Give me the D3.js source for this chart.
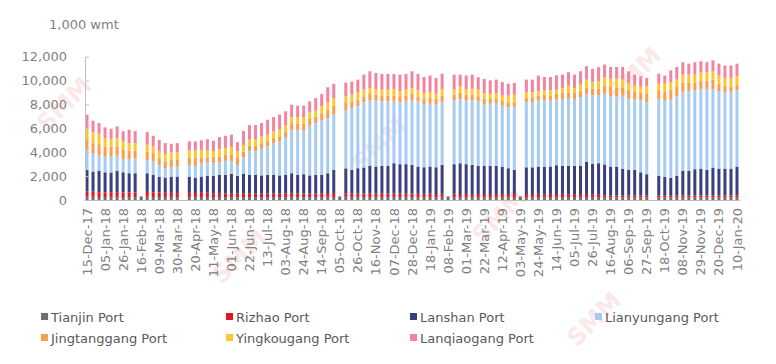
<!DOCTYPE html>
<html>
<head>
<meta charset="utf-8">
<script src="https://cdn.jsdelivr.net/npm/d3@7"></script>
<style>
body { margin: 0; background: #fff; }
svg { display: block; font-family: "DejaVu Sans", Verdana, sans-serif; }
</style>
</head>
<body>
<div id="chart"></div>
<script>
// weekly categories, 15-Dec-17 .. 10-Jan-20
const weeks = [
  '15-Dec-17','22-Dec-17','29-Dec-17',
  '05-Jan-18','12-Jan-18','19-Jan-18','26-Jan-18','02-Feb-18','09-Feb-18','16-Feb-18','23-Feb-18',
  '02-Mar-18','09-Mar-18','16-Mar-18','23-Mar-18','30-Mar-18','06-Apr-18','13-Apr-18','20-Apr-18',
  '27-Apr-18','04-May-18','11-May-18','18-May-18','25-May-18','01-Jun-18','08-Jun-18','15-Jun-18',
  '22-Jun-18','29-Jun-18','06-Jul-18','13-Jul-18','20-Jul-18','27-Jul-18','03-Aug-18','10-Aug-18',
  '17-Aug-18','24-Aug-18','31-Aug-18','07-Sep-18','14-Sep-18','21-Sep-18','28-Sep-18','05-Oct-18',
  '12-Oct-18','19-Oct-18','26-Oct-18','02-Nov-18','09-Nov-18','16-Nov-18','23-Nov-18','30-Nov-18',
  '07-Dec-18','14-Dec-18','21-Dec-18','28-Dec-18',
  '04-Jan-19','11-Jan-19','18-Jan-19','25-Jan-19','01-Feb-19','08-Feb-19','15-Feb-19','22-Feb-19',
  '01-Mar-19','08-Mar-19','15-Mar-19','22-Mar-19','29-Mar-19','05-Apr-19','12-Apr-19','19-Apr-19',
  '26-Apr-19','03-May-19','10-May-19','17-May-19','24-May-19','31-May-19','07-Jun-19','14-Jun-19',
  '21-Jun-19','28-Jun-19','05-Jul-19','12-Jul-19','19-Jul-19','26-Jul-19','02-Aug-19','09-Aug-19',
  '16-Aug-19','23-Aug-19','30-Aug-19','06-Sep-19','13-Sep-19','20-Sep-19','27-Sep-19','04-Oct-19',
  '11-Oct-19','18-Oct-19','25-Oct-19','01-Nov-19','08-Nov-19','15-Nov-19','22-Nov-19','29-Nov-19',
  '06-Dec-19','13-Dec-19','20-Dec-19','27-Dec-19','03-Jan-20','10-Jan-20'
];

// inventories, 1,000 wmt (null = no data that week)
const tianjin = [280,260,250,250,260,240,250,240,250,300,260,250,240,250,250,240,null,240,240,250,
  250,250,260,250,260,240,250,240,250,240,240,250,240,250,260,240,250,240,250,240,
  260,250,300,260,250,260,250,250,260,250,240,250,250,260,250,240,250,250,240,260,
  300,250,240,250,240,250,240,250,240,250,240,250,300,250,240,250,240,250,240,250,
  240,250,240,250,240,250,200,190,200,190,200,190,200,190,null,200,190,200,190,200,
  190,200,190,200,190,200,190,200,190];
const rizhao = [420,440,400,380,400,420,380,400,380,null,420,400,380,350,350,330,null,360,340,350,
  360,310,300,300,310,300,320,300,300,290,300,290,300,310,300,300,290,300,300,290,
  320,340,null,300,300,290,300,310,300,300,290,300,290,280,290,280,270,280,260,270,
  null,270,260,260,260,250,260,250,260,250,260,250,null,250,260,260,250,260,260,260,
  250,240,250,250,240,250,180,170,180,170,170,180,170,180,null,170,170,160,170,170,
  180,170,180,170,180,170,180,170,180];
const lanshan = [1820,1680,1790,1690,1640,1780,1690,1600,1610,null,1560,1450,1340,1280,1360,1390,null,1360,1300,1360,
  1430,1480,1540,1550,1610,1480,1610,1560,1550,1530,1560,1560,1520,1560,1680,1560,1620,1520,1550,1570,
  1660,1930,null,2090,1970,2110,2170,2300,2240,2310,2330,2530,2460,2460,2400,2280,2220,2270,2240,2410,
  null,2480,2580,2490,2440,2360,2360,2360,2360,2300,2160,2020,null,2240,2240,2290,2310,2290,2410,2350,
  2370,2370,2370,2690,2540,2580,2600,2440,2420,2240,2150,2150,1950,1790,null,1650,1570,1490,1680,2090,
  2070,2210,2260,2150,2350,2260,2260,2260,2430];
const lianyungang = [1680,1540,1320,1320,1340,1290,1090,1180,1260,null,1120,1120,980,780,780,840,null,980,980,1120,
  1090,1040,1040,1180,1090,920,1370,2020,1960,2220,2380,2660,2840,3120,3640,3720,3660,4160,4340,4540,
  4620,4620,null,4850,5180,5180,5460,5480,5520,5400,5400,5180,5180,5260,5400,5460,5240,5260,5240,5240,
  null,5340,5380,5340,5420,5400,5120,5200,5260,5100,5100,5240,null,5440,5440,5540,5540,5520,5490,5600,
  5680,5600,5760,5690,5740,5680,5920,5880,5880,6140,5940,5880,6020,6020,null,6440,6390,6550,6640,6560,
  6660,6600,6670,6780,6580,6470,6390,6470,6380];
const jingtanggang = [900,840,920,840,840,760,780,730,640,null,700,700,560,560,620,620,null,620,640,480,
  420,560,500,500,500,640,500,400,480,480,440,440,440,500,560,560,560,560,560,580,
  700,760,null,680,560,560,500,540,500,500,500,500,520,500,540,420,530,540,480,560,
  null,480,500,480,460,420,480,400,340,440,420,420,null,380,380,420,480,440,480,560,
  480,500,540,560,540,540,680,840,760,640,780,700,620,700,null,780,780,840,840,780,
  700,620,700,700,780,640,560,400,480];
const yingkougang = [900,900,870,700,640,700,700,620,620,null,560,560,560,640,620,560,null,590,640,640,
  640,460,620,560,640,480,560,540,560,560,540,540,600,500,500,560,560,560,480,620,
  620,640,null,500,560,640,560,500,480,480,480,540,400,480,500,500,450,440,440,560,
  null,420,560,420,500,560,500,420,500,400,560,640,null,460,460,340,360,420,360,360,
  560,420,500,640,560,640,720,620,720,700,560,480,500,640,null,500,700,620,560,700,
  700,700,700,700,700,680,640,720,700];
const lanqiaogang = [1140,980,900,900,840,980,870,1120,1010,null,1060,900,980,900,730,780,null,760,760,800,
  900,860,1010,1040,1060,780,1180,1210,1170,1120,1260,1200,1200,1180,1040,960,960,920,1060,1040,
  1260,1180,null,1150,1090,1040,1260,1400,1340,1320,1320,1260,1400,1320,1400,1380,1340,1380,1320,1280,
  null,1260,980,1180,1180,1040,1180,1140,1120,1140,1000,980,null,1060,1060,1320,1120,1120,1200,1120,
  1120,1120,1120,1120,1120,1180,1040,1000,980,1060,980,920,900,700,null,840,620,1000,1060,1040,
  920,1040,920,840,920,1000,1040,1040,1060];

const ports = ['Tianjin Port','Rizhao Port','Lanshan Port','Lianyungang Port',
  'Jingtanggang Port','Yingkougang Port','Lanqiaogang Port'];
const portValues = [tianjin, rizhao, lanshan, lianyungang, jingtanggang, yingkougang, lanqiaogang];
const colors = ['#6f6f6f','#e8141f','#3a407f','#a6cbf4','#f99e4c','#fcc830','#f3849f'];
const yTicks = [0,2000,4000,6000,8000,10000,12000];
const unitLabel = '1,000 wmt';

const width = 776, height = 364;

const svg = d3.select('#chart').append('svg')
  .attr('width', width)
  .attr('height', height);

// faint watermarks, kept inside the frame
const marks = [[385,150],[640,80],[245,262],[505,222],[600,325],[70,110]];
svg.append('g').selectAll('text').data(marks).enter().append('text')
  .attr('transform', d => `translate(${d[0]},${d[1]}) rotate(-45)`)
  .attr('text-anchor', 'middle')
  .attr('font-size', 24)
  .attr('font-weight', 'bold')
  .attr('fill', '#f7c9c9')
  .attr('opacity', 0.4)
  .text('SMM');

const x = d3.scaleBand()
  .domain(weeks)
  .range([84, 740])
  .paddingInner(0.5)
  .paddingOuter(0.25);

const y = d3.scaleLinear()
  .domain([0, 12000])
  .range([200, 56.7]);

const table = weeks.map((w, i) => {
  const row = {week: w};
  ports.forEach((p, k) => row[p] = portValues[k][i] || 0);
  return row;
});

const series = d3.stack().keys(ports)(table);

svg.append('g').selectAll('g')
  .data(series)
  .enter().append('g')
  .attr('fill', (d, i) => colors[i])
  .selectAll('rect')
  .data(d => d.filter(v => v[1] - v[0] > 0))
  .enter().append('rect')
  .attr('x', d => x(d.data.week))
  .attr('width', x.bandwidth())
  .attr('y', d => y(d[1]))
  .attr('height', d => y(d[0]) - y(d[1]));

// y axis
const yAxis = svg.append('g')
  .attr('transform', 'translate(85,0)')
  .call(d3.axisLeft(y).tickValues(yTicks).tickFormat(d3.format(','))
    .tickSize(-4).tickSizeOuter(0).tickPadding(18));
yAxis.select('.domain').attr('stroke', '#bfbfbf');
yAxis.selectAll('.tick line').attr('stroke', '#bfbfbf');
yAxis.selectAll('text')
  .attr('fill', '#7f7f7f')
  .attr('font-size', 13)
  .attr('font-family', '"DejaVu Sans", Verdana, sans-serif');

// x axis
const xAxis = svg.append('g')
  .attr('transform', 'translate(0,200)')
  .call(d3.axisBottom(x).tickValues(weeks.filter((d, i) => i % 3 === 0))
    .tickSize(0).tickSizeOuter(0));
xAxis.select('.domain').attr('stroke', '#bfbfbf');
xAxis.selectAll('text')
  .attr('transform', 'rotate(-90)')
  .attr('text-anchor', 'end')
  .attr('x', -8)
  .attr('y', 0)
  .attr('dy', '0.35em')
  .attr('fill', '#7f7f7f')
  .attr('font-size', 13)
  .attr('font-family', '"DejaVu Sans", Verdana, sans-serif');

svg.append('text')
  .attr('x', 49)
  .attr('y', 29)
  .attr('font-size', 13)
  .attr('fill', '#7f7f7f')
  .text(unitLabel);

// legend
const legendX = [41, 226, 410, 595];
const legend = svg.append('g').selectAll('g')
  .data(ports)
  .enter().append('g')
  .attr('transform', (d, i) => `translate(${legendX[i % 4]},${i < 4 ? 317 : 338})`);
legend.append('rect')
  .attr('x', 0).attr('y', -4)
  .attr('width', 7).attr('height', 7)
  .attr('fill', (d, i) => colors[i]);
legend.append('text')
  .attr('x', 10)
  .attr('dy', '0.35em')
  .attr('font-size', 13)
  .attr('fill', '#595959')
  .text(d => d);
</script>
</body>
</html>
